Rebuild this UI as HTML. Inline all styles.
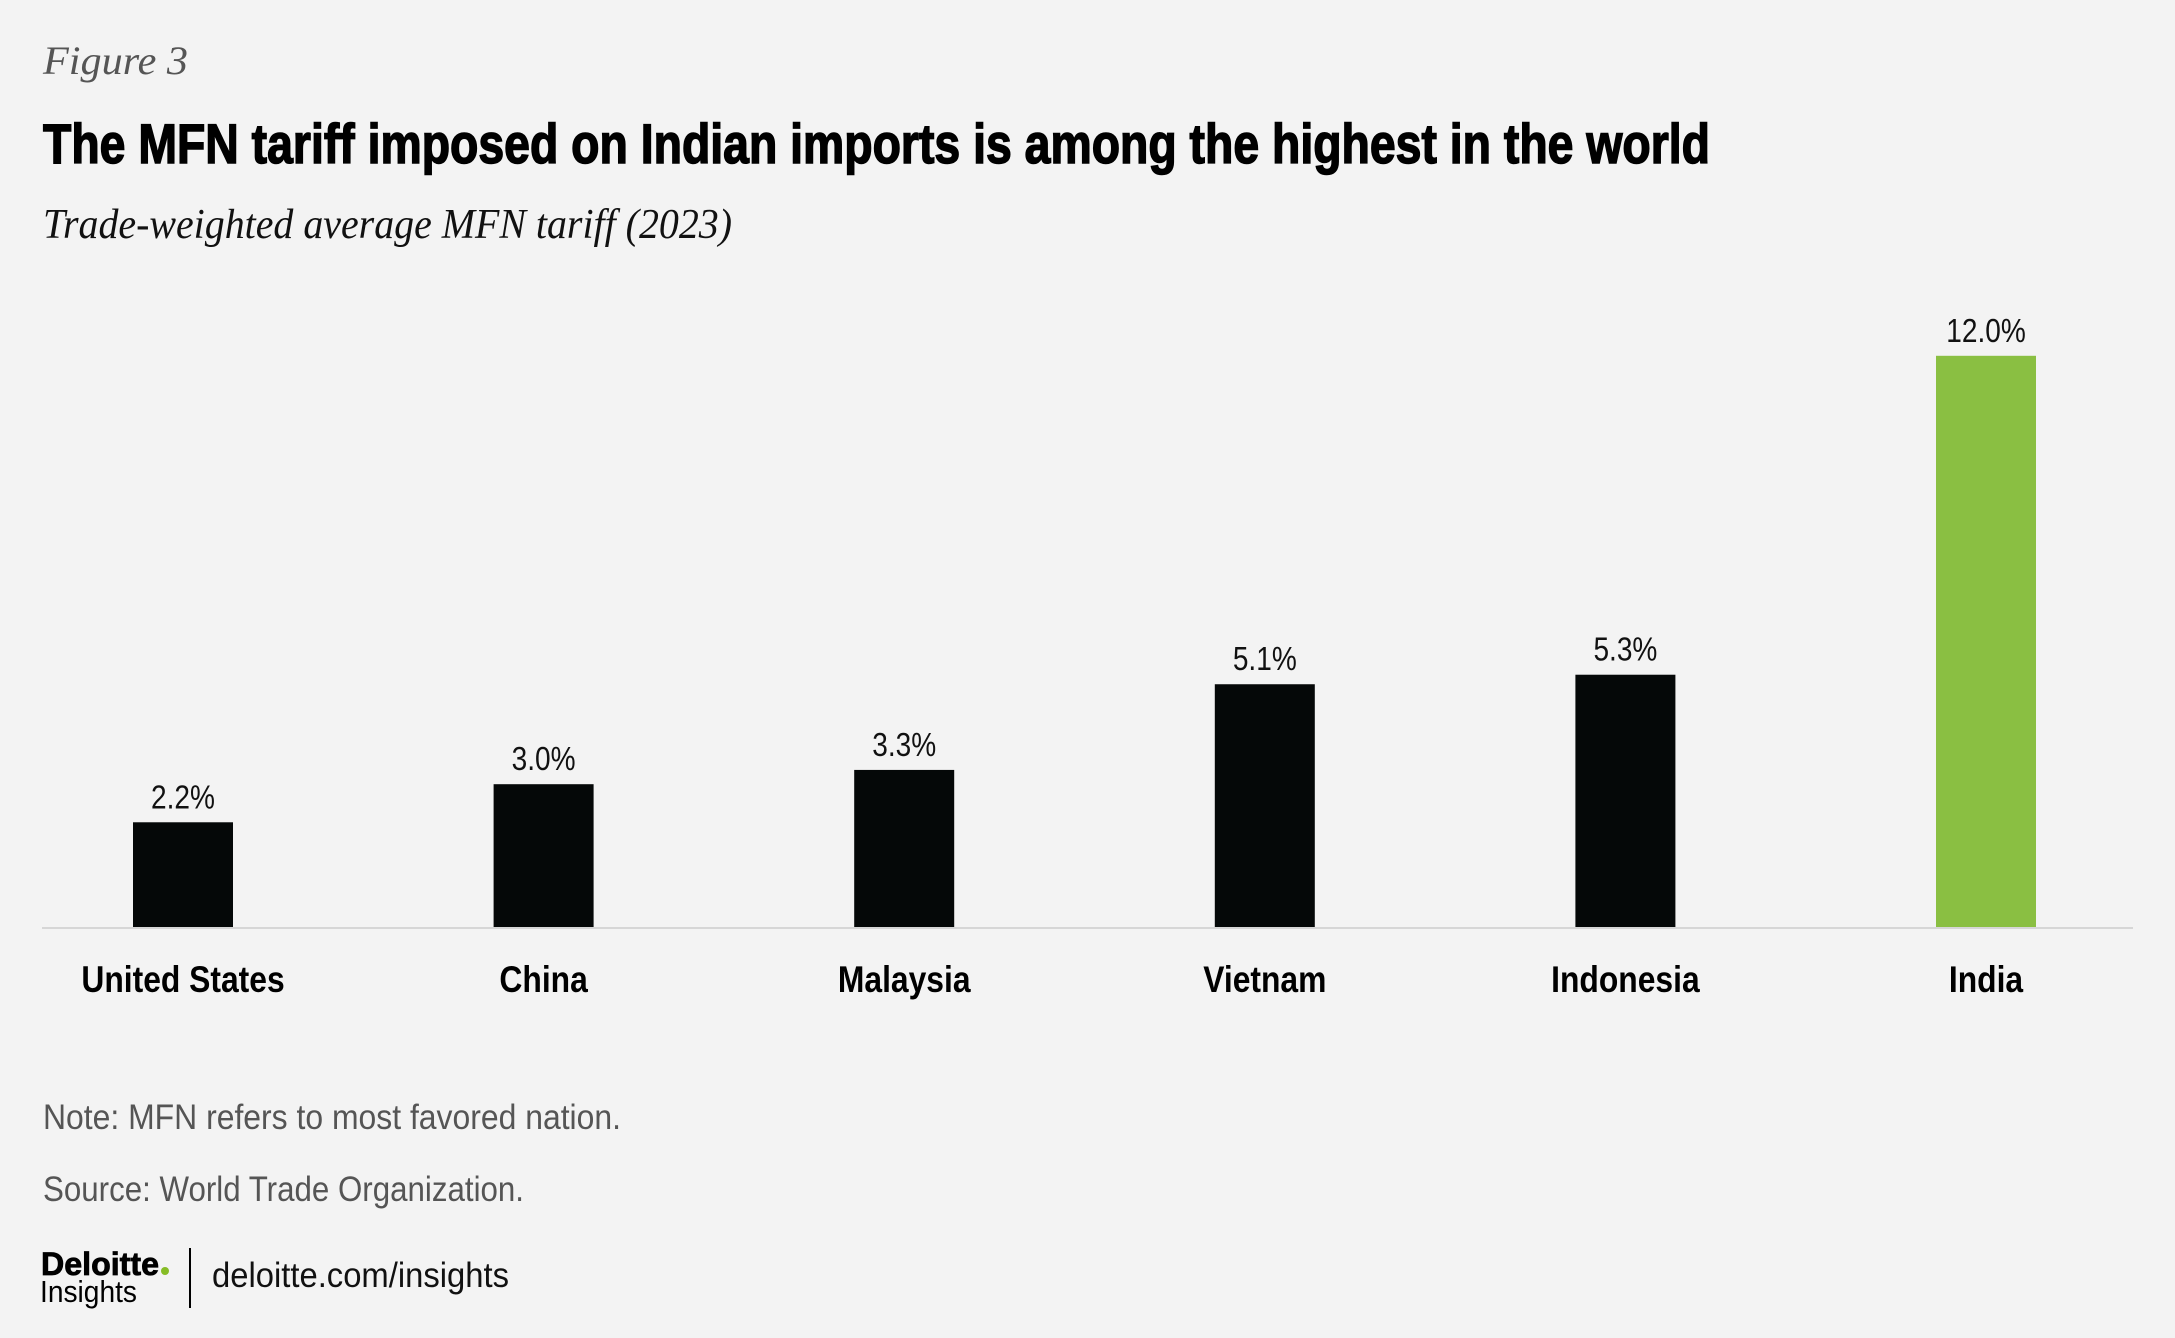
<!DOCTYPE html>
<html><head><meta charset="utf-8"><style>
html,body{margin:0;padding:0;background:#f3f3f3;}
svg{display:block;}
</style></head><body>
<svg id="chart" width="2175" height="1338" viewBox="0 0 2175 1338" xmlns="http://www.w3.org/2000/svg">
<rect x="0" y="0" width="2175" height="1338" fill="#f3f3f3"/>
<text x="43" y="74" font-family="Liberation Serif, serif" font-style="italic" font-size="40" fill="#555" textLength="145" lengthAdjust="spacingAndGlyphs">Figure 3</text>
<text x="43" y="163" font-family="Liberation Sans, sans-serif" font-weight="bold" font-size="56" fill="#000" stroke="#000" stroke-width="1.5" textLength="1667" lengthAdjust="spacingAndGlyphs">The MFN tariff imposed on Indian imports is among the highest in the world</text>
<text x="43" y="238" font-family="Liberation Serif, serif" font-style="italic" font-size="42" fill="#111" textLength="689" lengthAdjust="spacingAndGlyphs">Trade-weighted average MFN tariff (2023)</text>
<g id="bars"></g>
<line x1="42" y1="928" x2="2133" y2="928" stroke="#d6d6d6" stroke-width="2"/>
<text x="43" y="1129" font-family="Liberation Sans, sans-serif" font-size="35" fill="#555" textLength="578" lengthAdjust="spacingAndGlyphs">Note: MFN refers to most favored nation.</text>
<text x="43" y="1201" font-family="Liberation Sans, sans-serif" font-size="35" fill="#555" textLength="481" lengthAdjust="spacingAndGlyphs">Source: World Trade Organization.</text>
<text x="41" y="1275" font-family="Liberation Sans, sans-serif" font-weight="bold" font-size="32" fill="#000" stroke="#000" stroke-width="0.8" textLength="118" lengthAdjust="spacingAndGlyphs">Deloitte</text>
<circle cx="165" cy="1271" r="4" fill="#86bc25"/>
<text x="40" y="1302" font-family="Liberation Sans, sans-serif" font-size="31" fill="#000" textLength="97" lengthAdjust="spacingAndGlyphs">Insights</text>
<line x1="190" y1="1248" x2="190" y2="1308" stroke="#000" stroke-width="2"/>
<text x="212" y="1287" font-family="Liberation Sans, sans-serif" font-size="35" fill="#111" textLength="297" lengthAdjust="spacingAndGlyphs">deloitte.com/insights</text>
</svg>
<script>
const categories = ["United States","China","Malaysia","Vietnam","Indonesia","India"];
const values = [2.2, 3.0, 3.3, 5.1, 5.3, 12.0];
const valueLabels = ["2.2%","3.0%","3.3%","5.1%","5.3%","12.0%"];
const highlight = [false,false,false,false,false,true];

const NS = "http://www.w3.org/2000/svg";
const baseY = 927, pxPerUnit = 47.6;
const x0 = 183, step = 360.6, barW = 100;
function xScale(i){ return x0 + i*step; }
function yScale(v){ return baseY - v*pxPerUnit; }
const g = document.getElementById('bars');
categories.forEach((c,i)=>{
  const cx = xScale(i), top = yScale(values[i]);
  const r = document.createElementNS(NS,'rect');
  r.setAttribute('x', cx-barW/2); r.setAttribute('y', top);
  r.setAttribute('width', barW); r.setAttribute('height', baseY-top);
  r.setAttribute('fill', highlight[i] ? '#8abf42' : '#050808');
  
  
  g.appendChild(r);
  const t = document.createElementNS(NS,'text');
  t.setAttribute('x', 0); t.setAttribute('y', 0);
  t.setAttribute('transform', 'translate(' + cx + ',' + (top-14) + ') scale(0.85,1)');
  t.setAttribute('text-anchor','middle');
  t.setAttribute('font-family','Liberation Sans, sans-serif');
  t.setAttribute('font-size','33'); t.setAttribute('fill','#111');
  t.textContent = valueLabels[i];
  
  
  g.appendChild(t);
  const l = document.createElementNS(NS,'text');
  l.setAttribute('x', 0); l.setAttribute('y', 0);
  l.setAttribute('transform', 'translate(' + cx + ',992) scale(0.86,1)');
  l.setAttribute('text-anchor','middle');
  l.setAttribute('font-family','Liberation Sans, sans-serif');
  l.setAttribute('font-weight','bold');
  l.setAttribute('font-size','37'); l.setAttribute('fill','#000');
  l.textContent = c;
  
  
  g.appendChild(l);
});
</script>
</body></html>
